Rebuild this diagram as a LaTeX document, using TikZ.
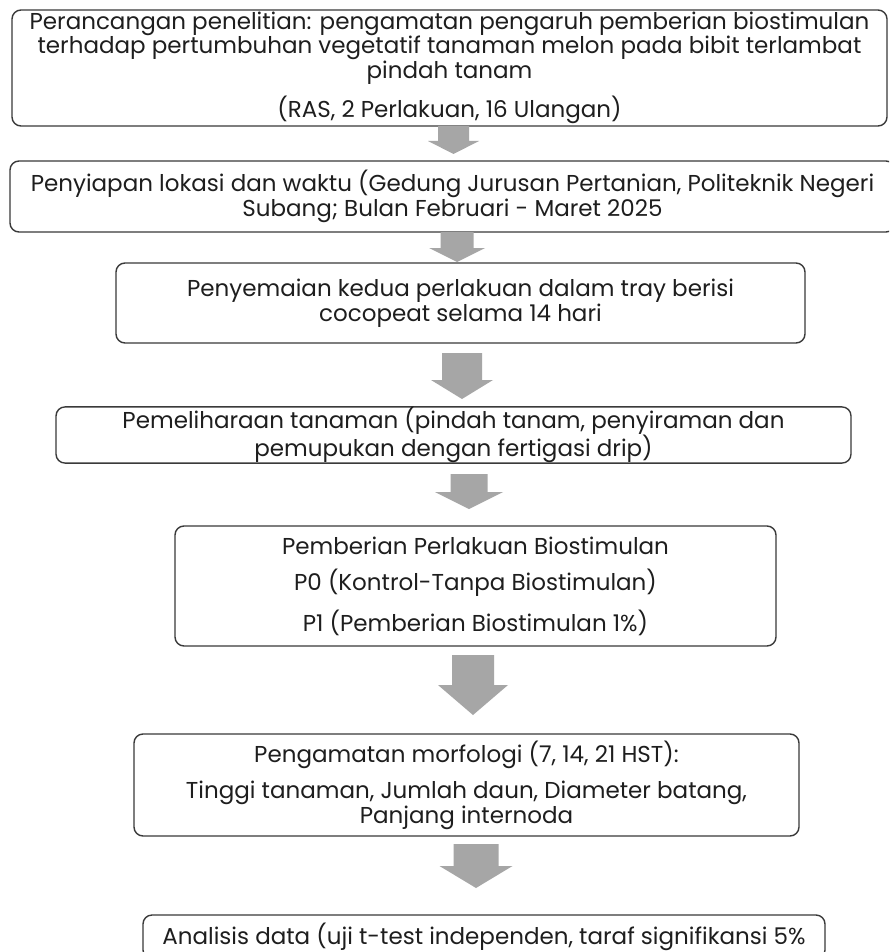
\documentclass[tikz,border=0pt]{standalone}
\usepackage{fontspec}
\setmainfont{Poppins}
\definecolor{boxline}{HTML}{3A3A3A}
\definecolor{txt}{HTML}{1E1E1E}
\definecolor{arrowgray}{HTML}{A6A6A6}
\newcommand\blockarrow[6]{%
  \pgfmathsetmacro\bal{#1-#5/2}\pgfmathsetmacro\bar{#1+#5/2}%
  \pgfmathsetmacro\bhl{#1-#6/2}\pgfmathsetmacro\bhr{#1+#6/2}%
  \fill[arrowgray] (\bal,#2) -- (\bar,#2) -- (\bar,#3) -- (\bhr,#3) -- (#1,#4) -- (\bhl,#3) -- (\bal,#3) -- cycle;}
\begin{document}
\begin{tikzpicture}[x=1pt,y=-1pt,
  box/.style={draw=boxline, line width=1.4pt, rounded corners=9pt, fill=white,
    inner sep=0pt, align=center, text=txt, font=\fontsize{23}{24.5}\selectfont}]
\path[use as bounding box] (0,0) rectangle (889,952);
\clip (0,0) rectangle (889,952);
\fill[white] (0,0) rectangle (889,952);

\node[box, minimum width=875, minimum height=116] (b1) at (449.5,68)
  {Perancangan penelitian: pengamatan pengaruh pemberian biostimulan\\
   terhadap pertumbuhan vegetatif tanaman melon pada bibit terlambat\\
   pindah tanam\\[11pt]
   (RAS, 2 Perlakuan, 16 Ulangan)};

\node[box, minimum width=885, minimum height=71] (b2) at (452.5,196.5)
  {Penyiapan lokasi dan waktu (Gedung Jurusan Pertanian, Politeknik Negeri\\
   Subang; Bulan Februari - Maret 2025};

\node[box, minimum width=689, minimum height=80] (b3) at (460.5,303)
  {Penyemaian kedua perlakuan dalam tray berisi\\
   cocopeat selama 14 hari};

\node[box, minimum width=795, minimum height=56] (b4) at (453.5,435)
  {Pemeliharaan tanaman (pindah tanam, penyiraman dan\\
   pemupukan dengan fertigasi drip)};

\node[box, minimum width=601, minimum height=120] (b5) at (475.5,586)
  {Pemberian Perlakuan Biostimulan\\[12pt]
   P0 (Kontrol-Tanpa Biostimulan)\\[12pt]
   P1 (Pemberian Biostimulan 1\%)};

\node[box, minimum width=665, minimum height=102] (b6) at (466.5,785)
  {Pengamatan morfologi (7, 14, 21 HST):\\[12pt]
   Tinggi tanaman, Jumlah daun, Diameter batang,\\
   Panjang internoda};

\node[box, minimum width=682, minimum height=44] (b7) at (484,937)
  {Analisis data (uji t-test independen, taraf signifikansi 5\%};

\blockarrow{453.5}{126}{141}{154}{31}{51}
\blockarrow{457}{232}{248}{262}{33}{56}
\blockarrow{462}{353}{380}{399}{40}{62}
\blockarrow{469}{474}{492}{509}{37}{68}
\blockarrow{473}{655}{685}{715}{42}{70}
\blockarrow{476}{844}{866}{888}{45}{73}
\end{tikzpicture}
\end{document}
